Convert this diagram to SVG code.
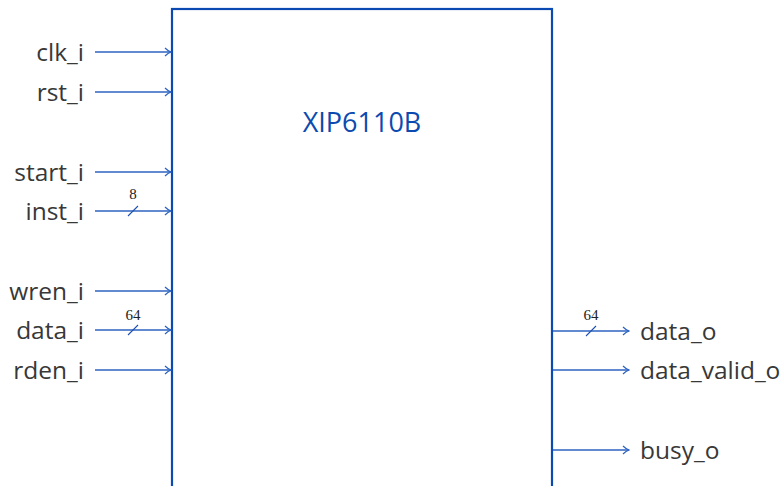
<svg xmlns="http://www.w3.org/2000/svg" width="783" height="486" viewBox="0 0 783 486">
<style>
.lbl{font-family:"Open Sans","DejaVu Sans",sans-serif;font-size:24.5px;fill:#383838}
.w{font-family:"Liberation Serif",serif;font-size:15px;fill:#222;text-anchor:middle}
.c{stroke:#2d63c0;stroke-width:1.3;fill:none}
.t{stroke:#1f4fb0;stroke-width:1.1;fill:none}
</style>
<defs>
<marker id="ah" viewBox="0 0 10 10" refX="9" refY="5" markerWidth="10" markerHeight="10" markerUnits="userSpaceOnUse" orient="auto">
<path d="M3,1 Q6,4 9,5 Q6,6 3,9" fill="none" stroke="#2d63c0" stroke-width="1.2"/>
</marker>
</defs>
<rect width="783" height="486" fill="#fff"/>
<g id="block">
<rect x="172" y="9" width="380" height="490" fill="none" stroke="#0b4ab0" stroke-width="2.2"/>
<text x="362" y="132" text-anchor="middle" font-family="Open Sans,DejaVu Sans,sans-serif" font-size="27" fill="#0b4ab0">XIP6110B</text>
</g>
<g id="connectors">
<line class="c" x1="95" y1="52" x2="171" y2="52" marker-end="url(#ah)"/>
<line class="c" x1="95" y1="92" x2="171" y2="92" marker-end="url(#ah)"/>
<line class="c" x1="95" y1="172" x2="171" y2="172" marker-end="url(#ah)"/>
<line class="c" x1="95" y1="211" x2="171" y2="211" marker-end="url(#ah)"/>
<line class="c" x1="95" y1="291" x2="171" y2="291" marker-end="url(#ah)"/>
<line class="c" x1="95" y1="330" x2="171" y2="330" marker-end="url(#ah)"/>
<line class="c" x1="95" y1="370" x2="171" y2="370" marker-end="url(#ah)"/>
<line class="c" x1="553" y1="331" x2="629" y2="331" marker-end="url(#ah)"/>
<line class="c" x1="553" y1="370" x2="629" y2="370" marker-end="url(#ah)"/>
<line class="c" x1="553" y1="450" x2="629" y2="450" marker-end="url(#ah)"/>
<line class="t" x1="128" y1="216" x2="138" y2="206"/>
<line class="t" x1="128" y1="335" x2="138" y2="325"/>
<line class="t" x1="586" y1="336" x2="596" y2="326"/>
<text class="w" x="133" y="199">8</text>
<text class="w" x="133" y="320">64</text>
<text class="w" x="591" y="320">64</text>
</g>
<g id="labels">
<text class="lbl" x="84" y="61" text-anchor="end">clk_i</text>
<text class="lbl" x="84" y="101" text-anchor="end">rst_i</text>
<text class="lbl" x="84" y="181" text-anchor="end">start_i</text>
<text class="lbl" x="84" y="220" text-anchor="end">inst_i</text>
<text class="lbl" x="84" y="300" text-anchor="end">wren_i</text>
<text class="lbl" x="84" y="339" text-anchor="end">data_i</text>
<text class="lbl" x="84" y="379" text-anchor="end">rden_i</text>
<text class="lbl" x="640" y="340">data_o</text>
<text class="lbl" x="640" y="379">data_valid_o</text>
<text class="lbl" x="640" y="459">busy_o</text>
</g>
</svg>
